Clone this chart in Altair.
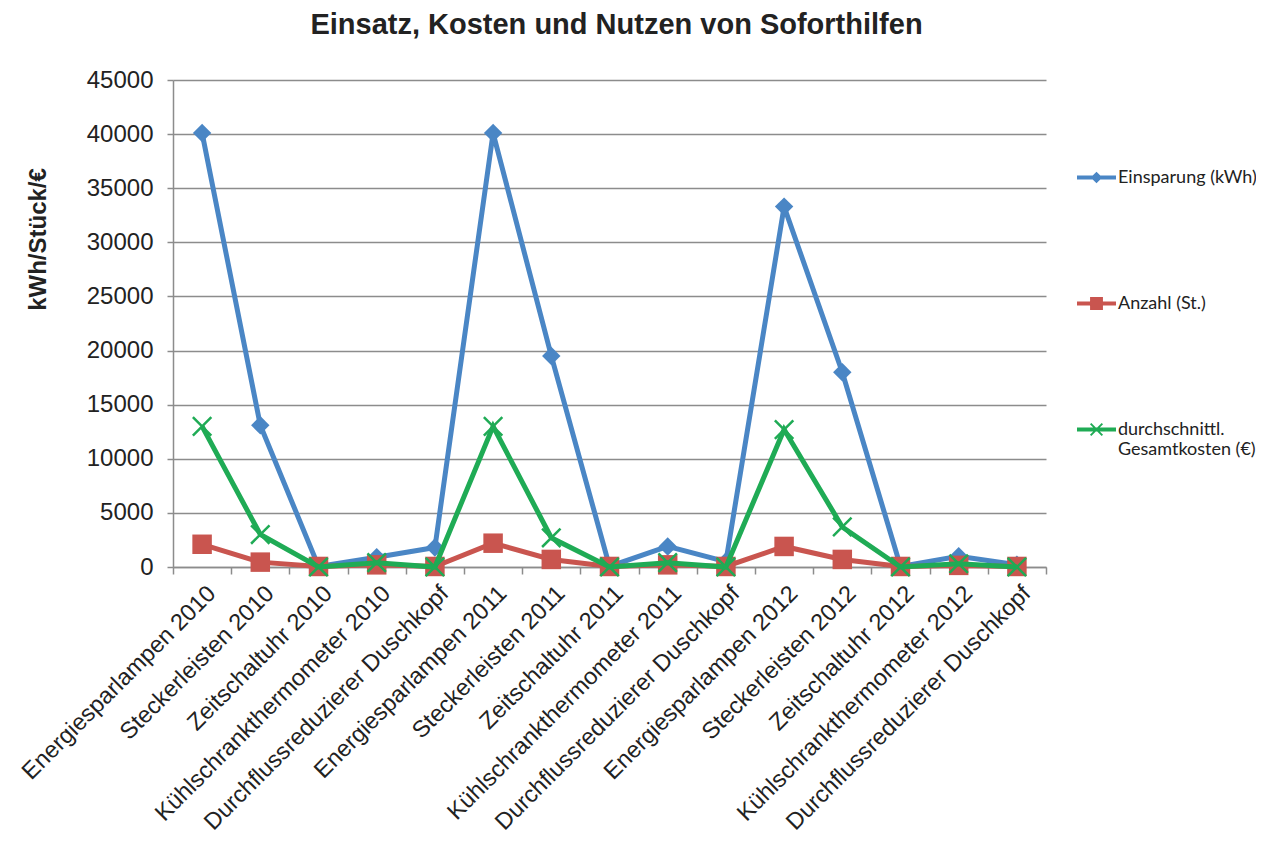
import json
import altair as alt
import pandas as pd

categories = [
    "Energiesparlampen 2010", "Steckerleisten 2010", "Zeitschaltuhr 2010",
    "Kühlschrankthermometer 2010", "Durchflussreduzierer Duschkopf",
    "Energiesparlampen 2011", "Steckerleisten 2011", "Zeitschaltuhr 2011",
    "Kühlschrankthermometer 2011", "Durchflussreduzierer Duschkopf",
    "Energiesparlampen 2012", "Steckerleisten 2012", "Zeitschaltuhr 2012",
    "Kühlschrankthermometer 2012", "Durchflussreduzierer Duschkopf",
]
series_names = ["Einsparung (kWh)", "Anzahl (St.)", "durchschnittl. Gesamtkosten (€)"]
einsparung = [40100, 13100, 50, 900, 1800, 40100, 19500, 50, 1900, 500, 33300, 18000, 50, 1000, 200]
anzahl = [2100, 450, 50, 200, 50, 2200, 700, 50, 200, 50, 1900, 700, 50, 150, 50]
kosten = [13000, 3000, 0, 400, 0, 13000, 2700, 0, 400, 0, 12700, 3700, 0, 300, 0]
y_ticks = [0, 5000, 10000, 15000, 20000, 25000, 30000, 35000, 40000, 45000]

colors = ["#4a86c5", "#c9554f", "#1fab55"]
plot_shapes = ["diamond", "square", "M-1,-1L1,1M-1,1L1,-1"]
plot_sizes = [340, 380, 340]
# legend symbols: a short line with a small marker on it (filled polygons)
line_part = "M-1,-0.1L1,-0.1L1,0.1L-1,0.1Z"
legend_paths = [
    line_part + "M0,-0.3L0.3,0L0,0.3L-0.3,0Z",
    line_part + "M-0.33,-0.33L0.33,-0.33L0.33,0.33L-0.33,0.33Z",
    line_part + "M-0.265,-0.335L0.335,0.265L0.265,0.335L-0.335,-0.265Z"
    "M-0.265,0.335L-0.335,0.265L0.265,-0.335L0.335,-0.265Z",
]

values = [einsparung, anzahl, kosten]
rows = []
for s, vals in zip(series_names, values):
    for i, v in enumerate(vals):
        rows.append({"key": f"{i:02d}", "series": s, "value": v})
df = pd.DataFrame(rows)

FONT = "Liberation Sans"
GRAY = "#8c8c8c"
label_expr = json.dumps(categories, ensure_ascii=False) + "[toNumber(datum.value)]"

x_enc = alt.X(
    "key:O",
    scale=alt.Scale(type="band", paddingInner=0, paddingOuter=0),
    axis=alt.Axis(
        title=None, labelAngle=315, labelExpr=label_expr, labelFont=FONT,
        labelFontSize=23.5, labelColor="#222", labelLimit=0, labelOverlap=False,
        labelPadding=7, labelOffset=1, tickBand="extent", tickColor=GRAY,
        tickSize=7, tickWidth=1.5, domainColor=GRAY, domainWidth=1.5, grid=False,
    ),
)
y_enc = alt.Y(
    "value:Q",
    scale=alt.Scale(domain=[0, 45000], nice=False),
    axis=alt.Axis(
        values=y_ticks, format="d", labelFont=FONT, labelFontSize=24,
        labelColor="#222", labelPadding=14, tickColor=GRAY, tickSize=6,
        tickWidth=1.5, domainColor=GRAY, domainWidth=1.5, gridColor=GRAY,
        gridWidth=1.5, title="kWh/Stück/€", titleFont=FONT, titleFontSize=24,
        titleFontWeight="bold", titleColor="#222", titleAngle=270,
        titleX=-135, titleY=159, titleAlign="center", titleBaseline="middle",
    ),
)

base = alt.Chart(df)
layers = []
for s, col, shp, sz in zip(series_names, colors, plot_shapes, plot_sizes):
    sub = base.transform_filter(alt.datum.series == s)
    layers.append(sub.mark_line(color=col, strokeWidth=5).encode(x=x_enc, y=y_enc))
    if shp.startswith("M"):
        pt = sub.mark_point(shape=shp, size=sz, filled=False, stroke=col,
                            strokeWidth=2.5, opacity=1)
    else:
        pt = sub.mark_point(shape=shp, size=sz, filled=True, color=col,
                            opacity=1)
    layers.append(pt.encode(x=x_enc, y=y_enc))

legend_expr = ("datum.label == 'durchschnittl. Gesamtkosten (€)' ? "
               "['durchschnittl.', 'Gesamtkosten (€)'] : datum.label")
leg = alt.Legend(
    orient="none", legendX=904, legendY=78, title=None, padding=0,
    symbolSize=1521, symbolStrokeWidth=0, labelFont="Lato", labelFontSize=18,
    labelColor="#222", labelOffset=2, rowPadding=97, labelLimit=300,
    labelExpr=legend_expr, symbolOpacity=1,
)
legend_layer = base.transform_filter("datum.value < 0").mark_point(
    filled=True, opacity=1, strokeWidth=0
).encode(
    x=x_enc, y=y_enc,
    shape=alt.Shape("series:N", scale=alt.Scale(domain=series_names, range=legend_paths), legend=leg),
    fill=alt.Fill("series:N", scale=alt.Scale(domain=series_names, range=colors), legend=leg),
)
layers.append(legend_layer)

chart = alt.layer(*layers).properties(
    width=873, height=487,
    autosize=alt.AutoSizeParams(type="none"),
    padding={"left": 165, "top": 72, "right": 210, "bottom": 272},
    title=alt.Title(
        "Einsatz, Kosten und Nutzen von Soforthilfen", font=FONT, fontSize=29,
        fontWeight="bold", color="#222", anchor="middle", offset=5, dx=7,
        baseline="alphabetic",
    ),
).configure_view(stroke=None)

chart.save("out.html", embed_options={"renderer": "svg", "actions": False})
